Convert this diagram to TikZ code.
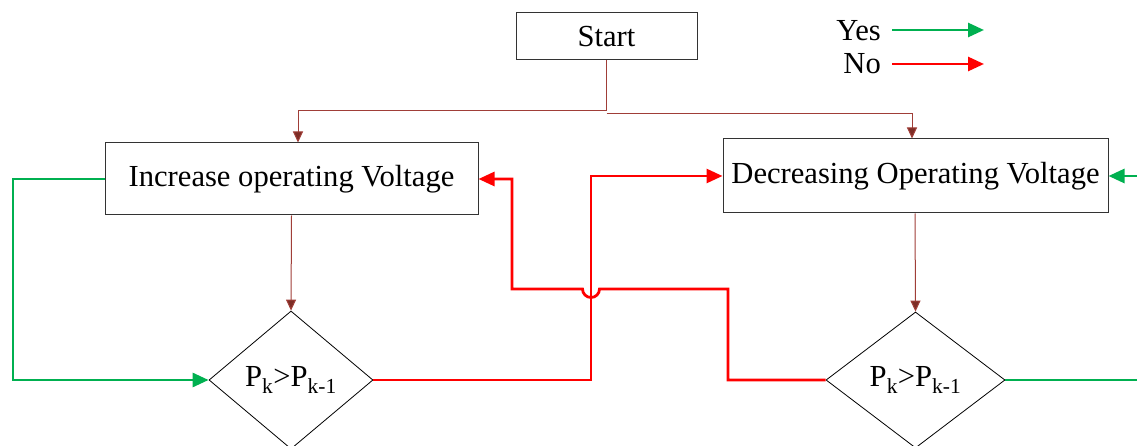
\documentclass[tikz,border=0pt]{standalone}
\usepackage{fontspec}
\setmainfont{Liberation Serif}
\usetikzlibrary{shapes.geometric,arrows.meta}
\definecolor{ygreen}{RGB}{0,176,80}
\definecolor{nred}{RGB}{255,0,0}
\definecolor{brn}{RGB}{160,62,56}
\definecolor{brnhead}{RGB}{125,45,38}
\begin{document}
\begin{tikzpicture}[x=1pt,y=-1pt,
  txt/.style={font=\fontsize{30.6}{34}\selectfont},
  box/.style={txt,draw=black!80,line width=1pt,inner sep=0pt},
  dia/.style={txt,diamond,draw=black,line width=0.8pt,inner sep=0pt},
  flow/.style={draw=brn,line width=1pt,-{Triangle[length=11pt,width=10pt,fill=brnhead]}},
  yes/.style={draw=ygreen,line width=2.8pt,-{Triangle[length=16pt,width=14pt]}},
  no/.style={draw=nred,line width=2.8pt,-{Triangle[length=16pt,width=14pt]}},
  yesline/.style={draw=ygreen,line width=2.8pt},
  noline/.style={draw=nred,line width=2.8pt}]
\useasboundingbox (0,0) rectangle (1137,446);
\clip (0,0) rectangle (1137,446);
\node[box,minimum width=181pt,minimum height=47pt] (start) at (606.5,36.5) {Start};
\node[box,minimum width=373pt,minimum height=72pt] (inc) at (291.5,179) {Increase operating Voltage};
\node[box,minimum width=385pt,minimum height=74pt] (dec) at (915.5,176) {Decreasing Operating Voltage};
\node[dia,minimum width=164pt,minimum height=138pt] (d1) at (291,380) {P\textsubscript{k}>P\textsubscript{k-1}};
\node[dia,minimum width=179pt,minimum height=136pt] (d2) at (915.5,380) {P\textsubscript{k}>P\textsubscript{k-1}};
% legend
\node[txt,anchor=east,inner sep=0pt] (yeslbl) at (881,31) {Yes};
\node[txt,anchor=east,inner sep=0pt] (nolbl) at (881,64) {No};
\coordinate (yesstart) at (892,30);
\coordinate (yesend) at (984,30);
\coordinate (nostart) at (892,64);
\coordinate (noend) at (984,64);
\draw[yes] (yesstart) -- (yesend);
\draw[no] (nostart) -- (noend);
% start connectors
\draw[flow] (start.south) -- ++(0,50) -| ([xshift=6.5pt]inc.north);
\draw[flow] ([yshift=-53pt]start.south) -| ([xshift=-3.5pt]dec.north);
\draw[flow] (inc.south) -- (d1.north);
\draw[flow] ([xshift=-0.5pt]dec.south) -- (d2.north);
% yes paths
\coordinate (gl) at (13,179);
\draw[yes] (inc.west) -- (gl) |- (d1.west);
\coordinate (gr) at (1140,380);
\draw[yesline] (d2.east) -- (gr);
\coordinate (gr2) at (1140,176);
\draw[yes] (gr2) -- (dec.east);
% no paths
\coordinate (r1) at (591,380);
\draw[no] (d1.east) -- (r1) |- (dec.west);
\coordinate (r2) at (728,289);
\coordinate (r3) at (512,289);
\draw[no] (d2.west) -| (r2) -- (599.5,289) arc[start angle=0,end angle=180,radius=8.5] -- (r3) |- (inc.east);
\end{tikzpicture}
\end{document}
